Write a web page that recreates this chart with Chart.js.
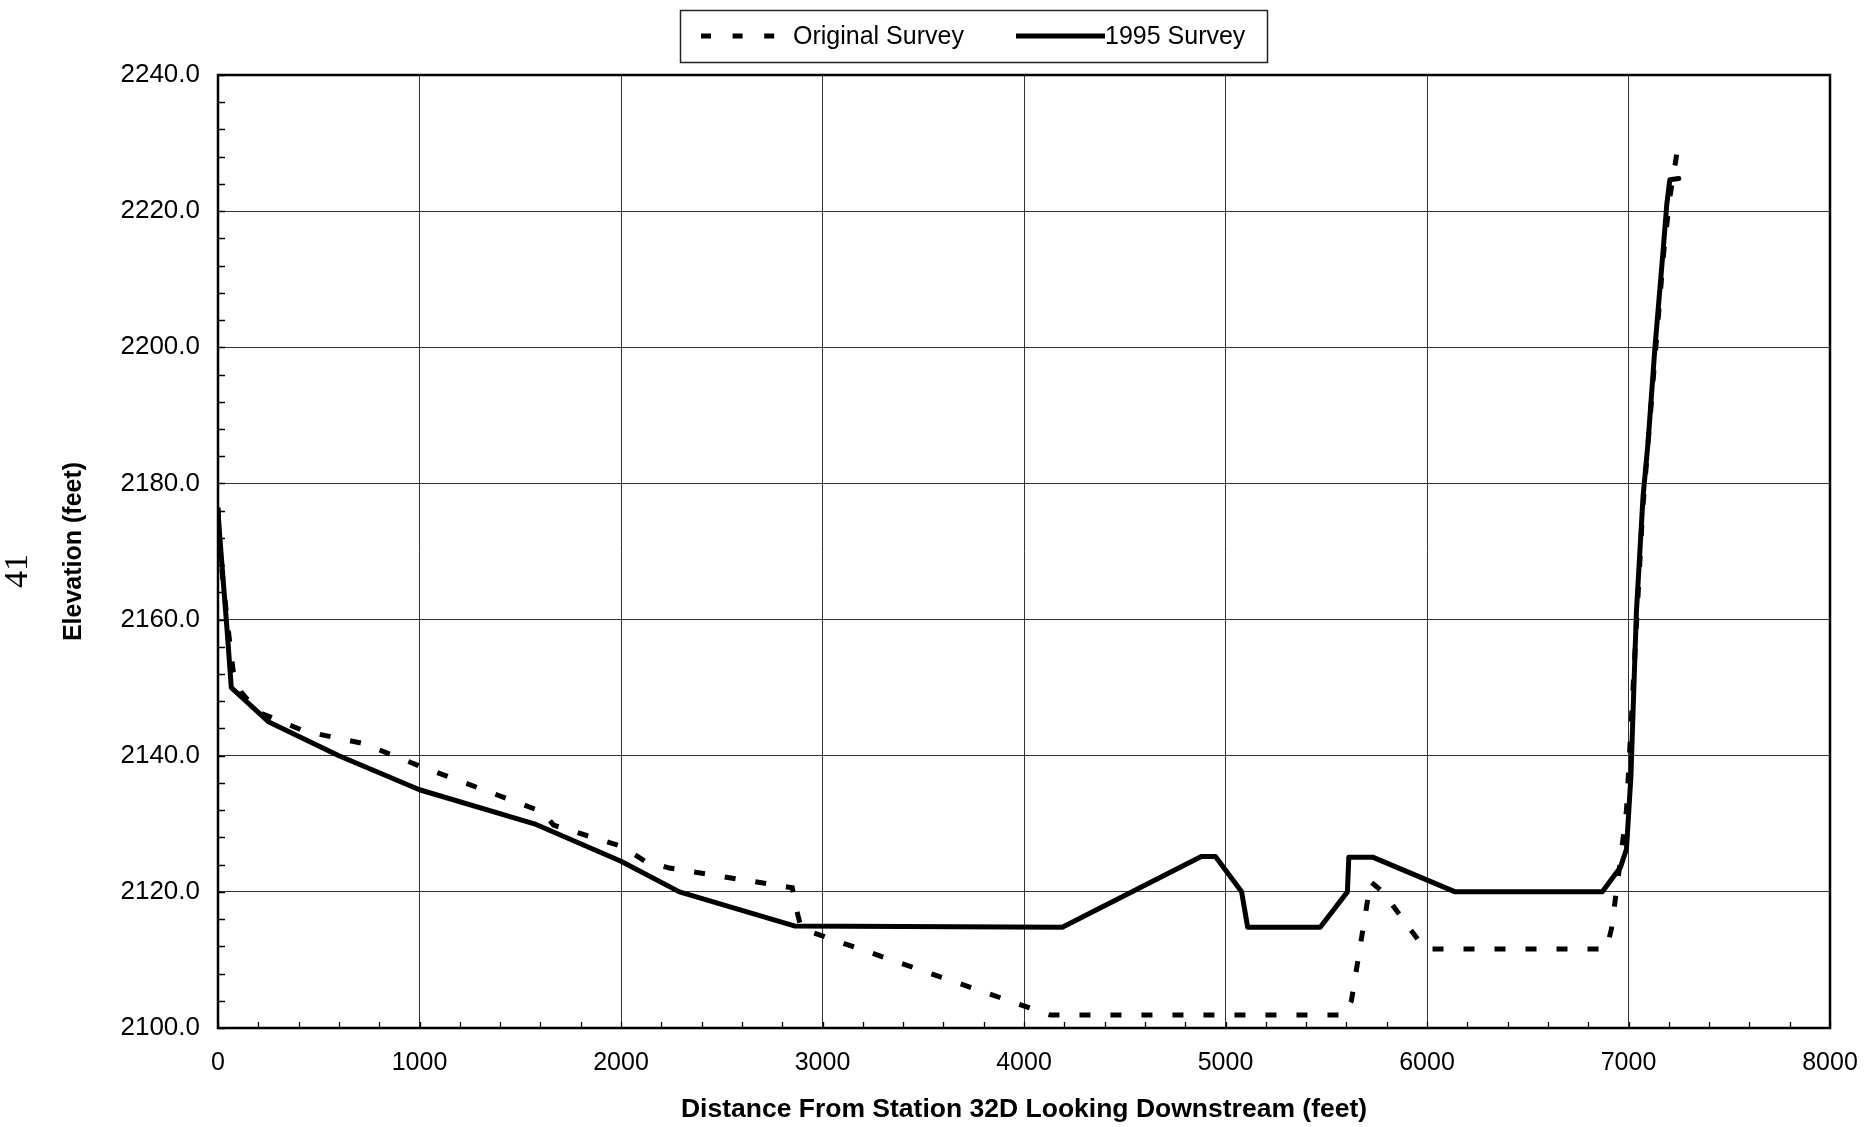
<!DOCTYPE html>
<html>
<head>
<meta charset="utf-8">
<title>Cross Section at Station 32D</title>
<script src="https://cdn.jsdelivr.net/npm/chart.js@4.4.1/dist/chart.umd.min.js"></script>
<style>
  html, body { margin: 0; padding: 0; background: #ffffff; }
  #wrap { position: relative; width: 1867px; height: 1127px; }
  canvas { display: block; }
</style>
</head>
<body>
<div id="wrap"><canvas id="section" width="1867" height="1127"></canvas></div>
<script>
// Cross-section profile, distance (feet) vs. elevation (feet)
const originalDistance  = [0, 10, 45, 75, 116, 200, 430, 720, 1000, 1615, 1665, 2000, 2120, 2240, 2850, 2870, 2895, 4130, 5590, 5625, 5720, 5780, 5990, 6890, 6915, 6955, 6990, 7070, 7130, 7175, 7205, 7240];
const originalElevation = [2176.5, 2170, 2160, 2152.5, 2149.3, 2146.4, 2143.6, 2141.8, 2138.5, 2131.7, 2129.8, 2126.7, 2124.5, 2123.5, 2120.6, 2117.5, 2114.6, 2101.9, 2101.9, 2104, 2121.5, 2120, 2111.6, 2111.6, 2114.5, 2123.5, 2132, 2176, 2198, 2214, 2222, 2228.5];

const surveyDistance  = [0, 8, 25, 45, 66, 250, 600, 1000, 1570, 2000, 2290, 2860, 4190, 4880, 4950, 5080, 5110, 5470, 5605, 5612, 5730, 6140, 6870, 6960, 6990, 7012, 7039, 7072, 7097, 7130, 7172, 7190, 7205, 7250];
const surveyElevation = [2176, 2172.5, 2166, 2158.5, 2150, 2145, 2140, 2135, 2130, 2124.5, 2120, 2115, 2114.8, 2125.2, 2125.2, 2120, 2114.8, 2114.8, 2120, 2125.1, 2125.1, 2120, 2120, 2123.6, 2126.3, 2137, 2161, 2178, 2186, 2199.5, 2214.3, 2221, 2224.6, 2224.8];

const seriesNames = ['Original Survey', '1995 Survey'];
const xTickValues = [0, 1000, 2000, 3000, 4000, 5000, 6000, 7000, 8000];
const yTickValues = [2100, 2120, 2140, 2160, 2180, 2200, 2220, 2240];
const xTitle = 'Distance From Station 32D Looking Downstream (feet)';
const yTitle = 'Elevation (feet)';
const pageNumber = '41';

const FONT = '"Liberation Sans", Arial, sans-serif';

function toPoints(xs, ys) {
  return xs.map((x, i) => ({ x: x, y: ys[i] }));
}

// Plot frame plus small inward minor ticks on the bottom and left axes
const framePlugin = {
  id: 'frame',
  beforeDatasetsDraw(chart) {
    const { ctx, chartArea: a, scales: { x, y } } = chart;
    ctx.save();
    ctx.strokeStyle = '#000';
    ctx.lineWidth = 1.3;
    ctx.beginPath();
    for (let v = x.min; v <= x.max; v += 200) {
      const px = Math.round(x.getPixelForValue(v)) + 0.5;
      ctx.moveTo(px, a.bottom);
      ctx.lineTo(px, a.bottom - 6);
    }
    for (let v = y.min; v <= y.max; v += 4) {
      const py = Math.round(y.getPixelForValue(v)) + 0.5;
      ctx.moveTo(a.left, py);
      ctx.lineTo(a.left + 7, py);
    }
    ctx.stroke();
    ctx.lineWidth = 2.5;
    ctx.strokeRect(a.left, a.top, a.right - a.left, a.bottom - a.top);
    ctx.restore();
  }
};

// Boxed legend above the plot, and the rotated page number at the left margin
const legendPlugin = {
  id: 'boxLegend',
  afterDraw(chart) {
    const { ctx } = chart;
    const ds = chart.data.datasets;
    ctx.save();
    ctx.strokeStyle = '#222';
    ctx.lineWidth = 1.5;
    ctx.strokeRect(680.5, 10.5, 587, 52);

    const rowY = 36;
    const items = [
      { x0: 701, x1: 776, tx: 793, dash: [10, 21.6] },
      { x0: 1016, x1: 1105, tx: 1105, dash: [] }
    ];
    ctx.font = '25px ' + FONT;
    ctx.fillStyle = '#000';
    ctx.textBaseline = 'middle';
    ctx.textAlign = 'left';
    items.forEach((it, i) => {
      ctx.save();
      ctx.strokeStyle = ds[i].borderColor;
      ctx.lineWidth = ds[i].borderWidth;
      ctx.lineCap = 'butt';
      ctx.setLineDash(it.dash);
      ctx.beginPath();
      ctx.moveTo(it.x0, rowY);
      ctx.lineTo(it.x1, rowY);
      ctx.stroke();
      ctx.restore();
      ctx.fillText(ds[i].label, it.tx, rowY + 1);
    });

    ctx.translate(18, 571);
    ctx.rotate(-Math.PI / 2);
    ctx.font = '34px "Liberation Serif", "Times New Roman", serif';
    ctx.textAlign = 'center';
    ctx.textBaseline = 'middle';
    ctx.fillText(pageNumber, 0, 0);
    ctx.restore();
  }
};

new Chart(document.getElementById('section'), {
  type: 'line',
  data: {
    datasets: [
      {
        label: seriesNames[0],
        data: toPoints(originalDistance, originalElevation),
        borderColor: '#000',
        borderWidth: 5,
        borderDash: [11, 20],
        borderCapStyle: 'butt',
        pointRadius: 0,
        tension: 0,
        fill: false
      },
      {
        label: seriesNames[1],
        data: toPoints(surveyDistance, surveyElevation),
        borderColor: '#000',
        borderWidth: 5,
        borderJoinStyle: 'round',
        borderCapStyle: 'round',
        pointRadius: 0,
        tension: 0,
        fill: false
      }
    ]
  },
  options: {
    responsive: false,
    animation: false,
    devicePixelRatio: 1,
    layout: { padding: { top: 75, right: 37, left: 0, bottom: 0 } },
    plugins: {
      legend: { display: false },
      tooltip: { enabled: false }
    },
    scales: {
      x: {
        type: 'linear',
        min: xTickValues[0],
        max: xTickValues[xTickValues.length - 1],
        afterBuildTicks(scale) { scale.ticks = xTickValues.map(v => ({ value: v })); },
        afterFit(scale) {
          scale.height = 99;
          scale.paddingLeft = 0;
          scale.paddingRight = 0;
        },
        ticks: {
          color: '#000',
          font: { family: FONT, size: 25 },
          padding: 20,
          maxRotation: 0,
          callback: v => String(v)
        },
        grid: { color: '#333333', lineWidth: 1, drawTicks: false },
        border: { display: false },
        title: {
          display: true,
          text: xTitle,
          color: '#000',
          font: { family: FONT, size: 26.5, weight: 'bold' },
          padding: { top: 0, bottom: 1 }
        }
      },
      y: {
        type: 'linear',
        min: yTickValues[0],
        max: yTickValues[yTickValues.length - 1],
        afterBuildTicks(scale) { scale.ticks = yTickValues.map(v => ({ value: v })); },
        afterFit(scale) {
          scale.width = 218;
          scale.paddingTop = 0;
          scale.paddingBottom = 0;
        },
        ticks: {
          color: '#000',
          font: { family: FONT, size: 26 },
          padding: 18,
          callback: v => Number(v).toFixed(1)
        },
        grid: { color: '#333333', lineWidth: 1, drawTicks: false },
        border: { display: false },
        title: {
          display: true,
          text: yTitle,
          color: '#000',
          font: { family: FONT, size: 25, weight: 'bold' },
          padding: { top: 59, bottom: 0 }
        }
      }
    }
  },
  plugins: [framePlugin, legendPlugin]
});
</script>
</body>
</html>
